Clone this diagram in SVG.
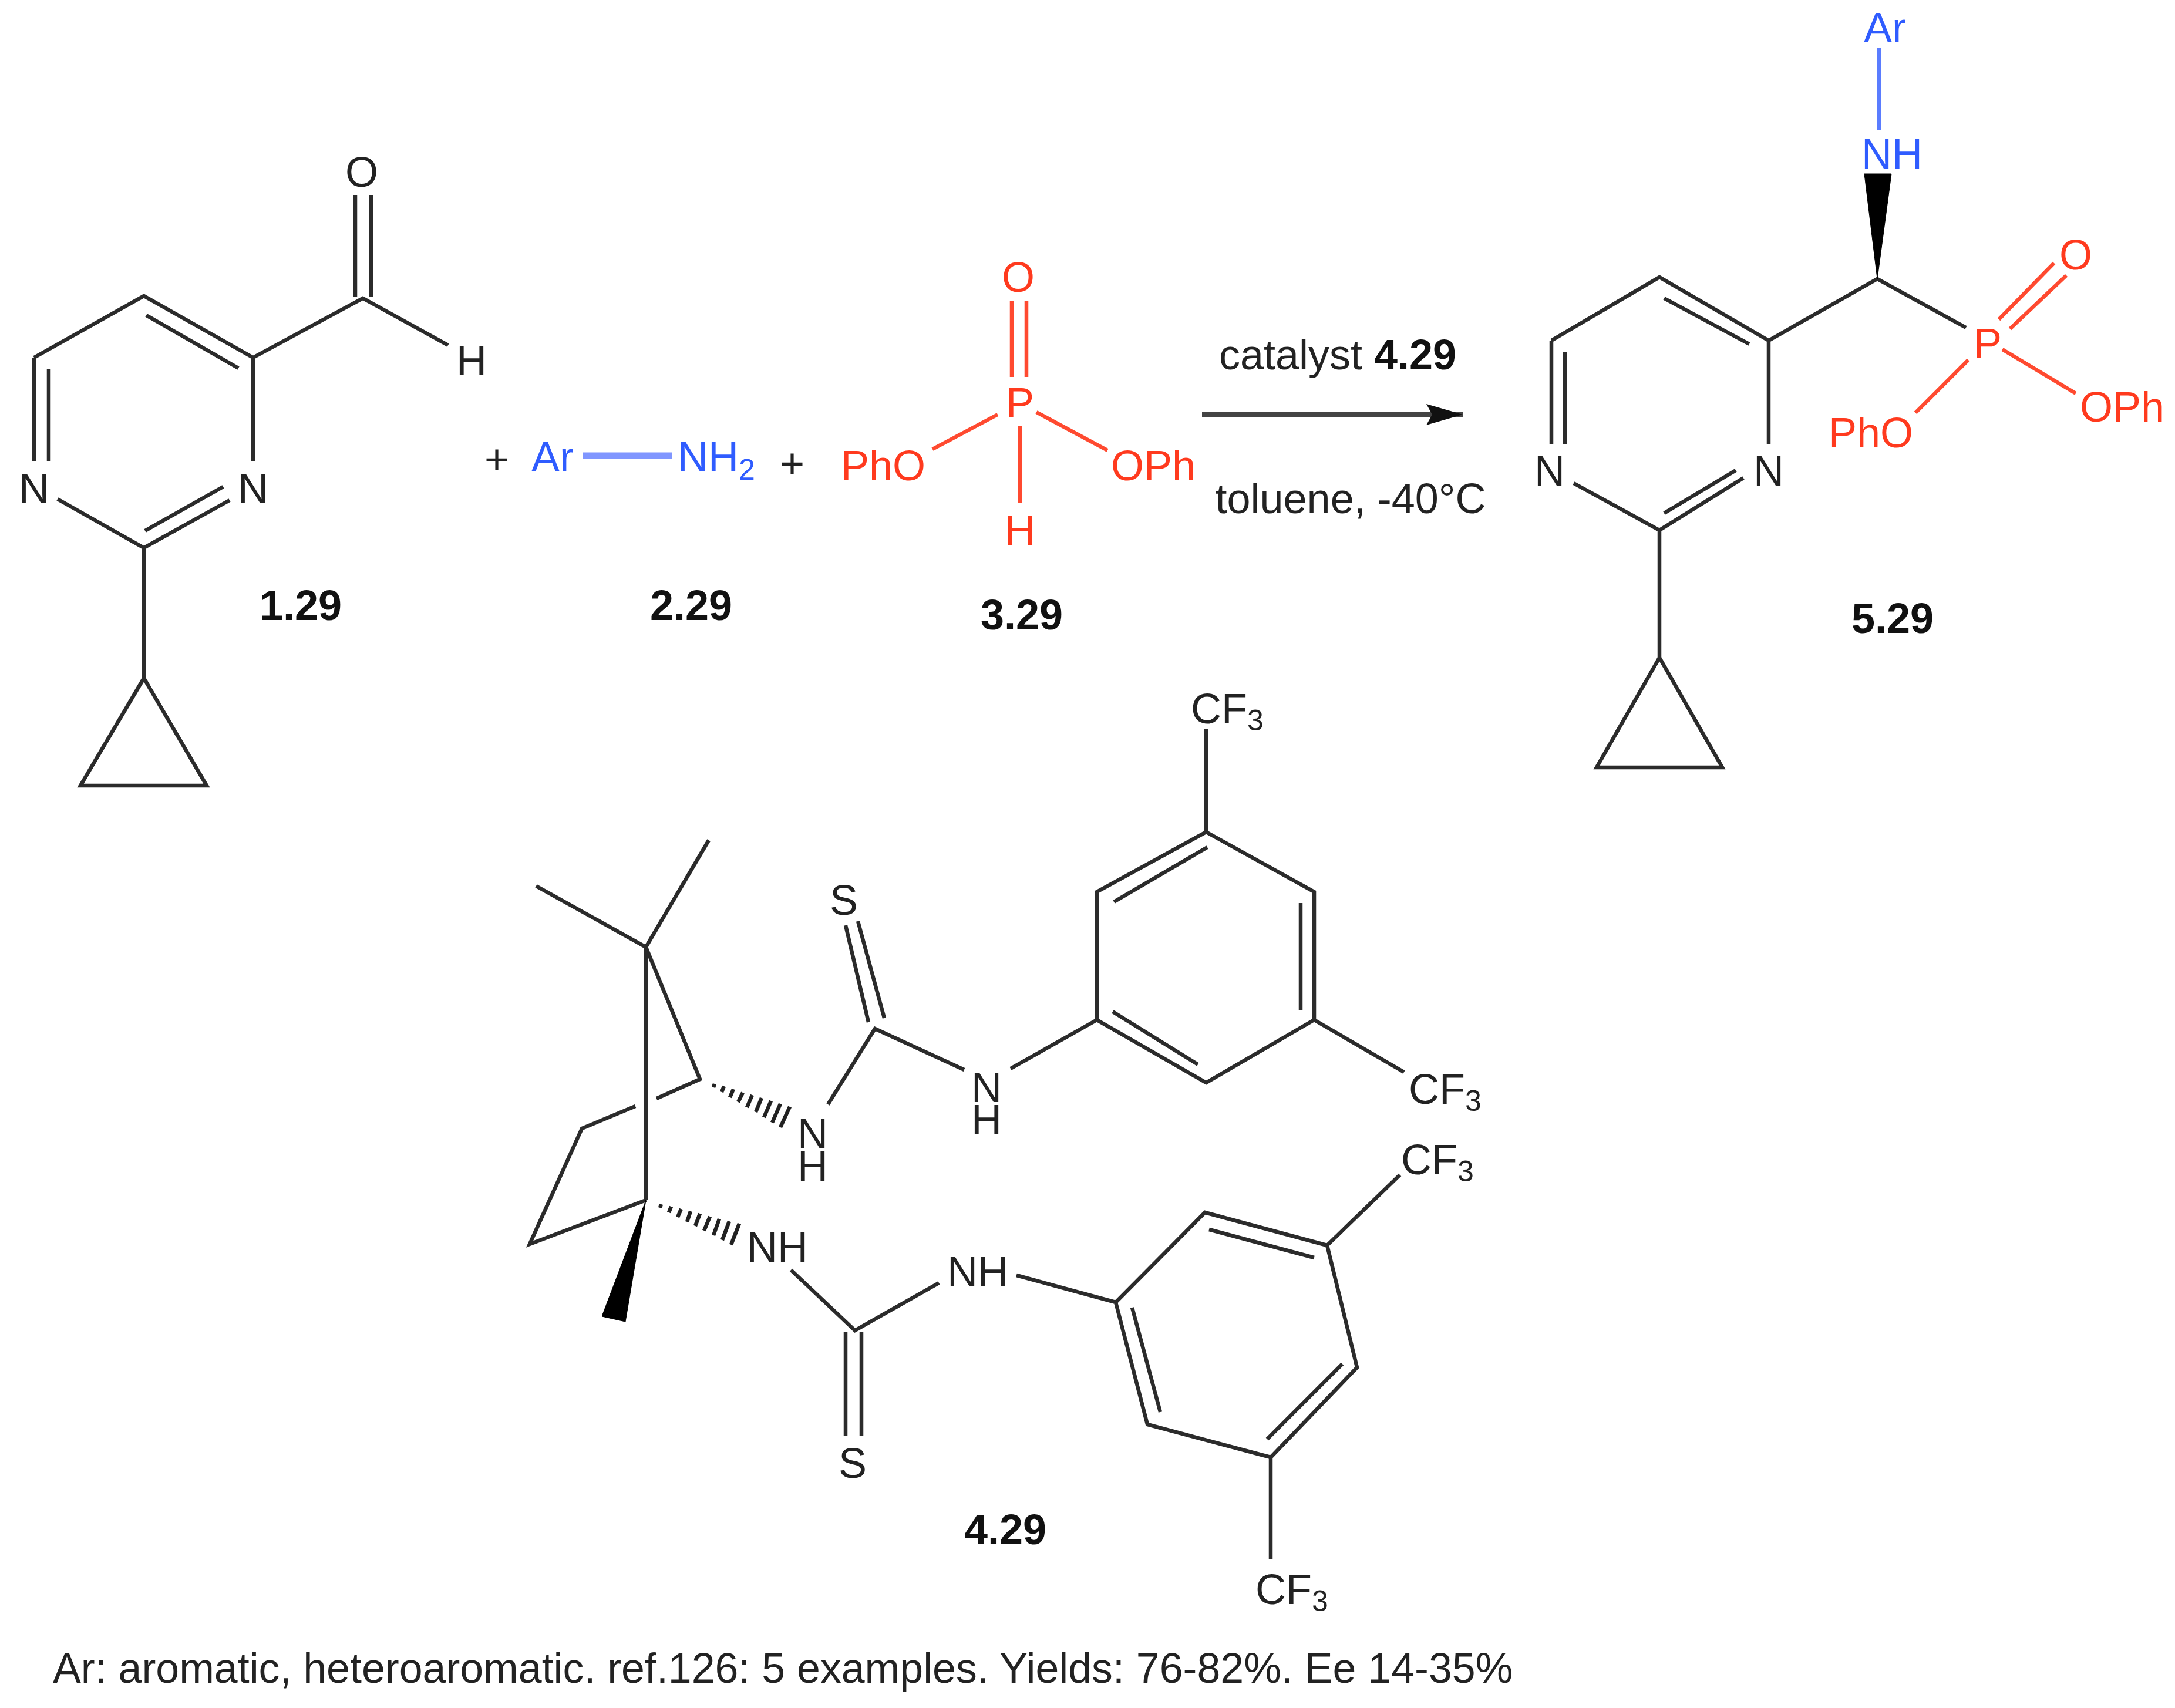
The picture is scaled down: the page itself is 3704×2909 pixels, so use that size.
<svg xmlns="http://www.w3.org/2000/svg" width="3704" height="2909" viewBox="0 0 3704 2909">
<style>
text{font-family:"Liberation Sans",Arial,sans-serif;font-size:72px;fill:#222;text-anchor:middle}
.b{font-weight:bold;fill:#111}
.red{fill:#ff3a1e}
.blue{fill:#2f5cff}
.l{text-anchor:start}
path{fill:none;stroke:#2b2b2b;stroke-width:6.5;stroke-linecap:butt;stroke-linejoin:miter}
path.r{stroke:#ff4a30}
path.bl{stroke:#5a7cff}
path.fill{fill:#000;stroke:#000;stroke-width:1}
path.hash{stroke:#222;stroke-width:6.5}
</style>
<defs>
<marker id="head" markerUnits="userSpaceOnUse" markerWidth="64" markerHeight="40" refX="62" refY="20" orient="auto"><path d="M0,2 L62,20 L0,38 L10,20 Z" style="fill:#111;stroke:none"/></marker>
</defs>
<rect width="3704" height="2909" fill="#fff"/>
<g id="connectors">
<path id="reaction-arrow" d="M2047,706 H2491" style="stroke:#444;stroke-width:9" marker-end="url(#head)"/>
</g>
<g id="compound-1-29">
<path d="M58,609 L245,504 L431,609 M249,537 L406,627 M431,609 V785 M58,609 V785 M83,628 V785 M98,850 L245,933 L391,852 M380,829 L247,904 M245,933 V1155 M245,1155 L137,1338 H352 Z M431,609 L618,508 L763,588 M605,332 V506 M632,332 V506"/>
<text x="616" y="318">O</text><text x="803" y="639">H</text>
<text x="58" y="857">N</text><text x="431" y="857">N</text>
<text class="b" x="512" y="1056">1.29</text>
</g>
<g id="plus-1"><text x="846" y="807">+</text></g>
<g id="compound-2-29">
<path d="M993,776 H1144" style="stroke:#8096ff;stroke-width:11"/>
<text class="blue" x="941" y="803">Ar</text>
<text class="blue l" x="1154" y="803">NH<tspan font-size="50" dy="14">2</tspan></text>
<text class="b" x="1177" y="1056">2.29</text>
</g>
<g id="plus-2"><text x="1349" y="814">+</text></g>
<g id="compound-3-29">
<path class="r" d="M1723,512 V642 M1748,512 V642 M1699,706 L1588,765 M1765,702 L1886,767 M1737,725 V857"/>
<text class="red" x="1734" y="497">O</text><text class="red" x="1737" y="711">P</text>
<text class="red" x="1504" y="818">PhO</text><text class="red" x="1964" y="818">OPh</text>
<text class="red" x="1737" y="928">H</text>
<text class="b" x="1740" y="1072">3.29</text>
</g>
<g id="conditions">
<text x="2278" y="629">catalyst <tspan class="b">4.29</tspan></text>
<text x="2300" y="874">toluene, -40°C</text>
</g>
<g id="compound-5-29">
<path d="M2642,580 L2826,472 L3012,580 M2834,508 L2979,586 M3012,580 V756 M2642,580 V756 M2665,599 V756 M2680,823 L2826,903 L2969,814 M2956,801 L2834,874 M2826,903 V1120 M2826,1120 L2719,1307 H2933 Z M3012,580 L3197,475 L3348,558"/>
<path class="bl" d="M3200,81 V221"/>
<path class="fill" d="M3175,296 H3221 L3197,475 Z"/>
<path class="r" d="M3404,544 L3498,448 M3423,560 L3519,469 M3410,595 L3535,670 M3352,613 L3262,703"/>
<text class="blue" x="3210" y="72">Ar</text><text class="blue" x="3222" y="287">NH</text>
<text class="red" x="3385" y="610">P</text><text class="red" x="3535" y="459">O</text>
<text class="red" x="3614" y="718">OPh</text><text class="red" x="3186" y="762">PhO</text>
<text x="2639" y="827">N</text><text x="3012" y="827">N</text>
<text class="b" x="3223" y="1078">5.29</text>
</g>
<g id="compound-4-29">
<path d="M913,1509 L1100,1613 L1207,1431 M1100,1613 V2044 M1100,1613 L1192,1838 L1118,1871 M1082,1884 L991,1922 L902,2119 L1100,2044"/>
<path class="fill" d="M1100,2044 L1025,2242 L1065,2251 Z"/>
<path class="hash" d="M1217,1846 L1215,1852 M1233,1850 L1229,1860 M1249,1855 L1243,1869 M1265,1861 L1257,1877 M1281,1865 L1272,1886 M1297,1870 L1287,1894 M1313,1875 L1301,1903 M1329,1880 L1315,1912 M1345,1885 L1329,1920"/>
<path class="hash" d="M1126,2051 L1124,2057 M1143,2055 L1139,2065 M1160,2059 L1154,2073 M1176,2063 L1170,2081 M1192,2067 L1184,2088 M1209,2072 L1199,2096 M1225,2076 L1215,2104 M1242,2080 L1230,2112 M1259,2084 L1245,2120"/>
<path d="M1410,1881 L1490,1752 L1642,1822 M1440,1576 L1479,1741 M1461,1569 L1506,1734 M1721,1820 L1868,1737"/>
<path d="M1347,2163 L1456,2266 L1599,2185 M1440,2269 V2445 M1467,2269 V2445"/>
<path d="M2054,1242 V1417 L1868,1519 V1737 L2054,1844 L2238,1737 V1519 L2054,1417 M1897,1536 L2056,1443 M1895,1723 L2040,1813 M2215,1538 V1721 M2238,1737 L2391,1826"/>
<path d="M1731,2172 L1900,2218 L2052,2065 L2260,2121 L2311,2329 L2164,2482 L1954,2426 L1900,2218 M2059,2094 L2238,2142 M1928,2227 L1976,2405 M2158,2451 L2286,2323 M2260,2121 L2384,2001 M2164,2482 V2655"/>
<text x="1437" y="1558">S</text><text x="1452" y="2517">S</text>
<text><tspan x="1384" y="1956">N</tspan><tspan x="1384" y="2011">H</tspan></text>
<text><tspan x="1680" y="1877">N</tspan><tspan x="1680" y="1932">H</tspan></text>
<text x="1324" y="2149">NH</text><text x="1665" y="2191">NH</text>
<text x="2090" y="1232">CF<tspan font-size="50" dy="12">3</tspan></text>
<text x="2461" y="1880">CF<tspan font-size="50" dy="12">3</tspan></text>
<text x="2448" y="2000">CF<tspan font-size="50" dy="12">3</tspan></text>
<text x="2200" y="2732">CF<tspan font-size="50" dy="12">3</tspan></text>
<text class="b" x="1712" y="2630">4.29</text>
</g>
<g id="caption"><text class="l" x="90" y="2866" style="font-size:71.7px">Ar: aromatic, heteroaromatic. ref.126: 5 examples. Yields: 76-82%. Ee 14-35%</text></g>
</svg>
